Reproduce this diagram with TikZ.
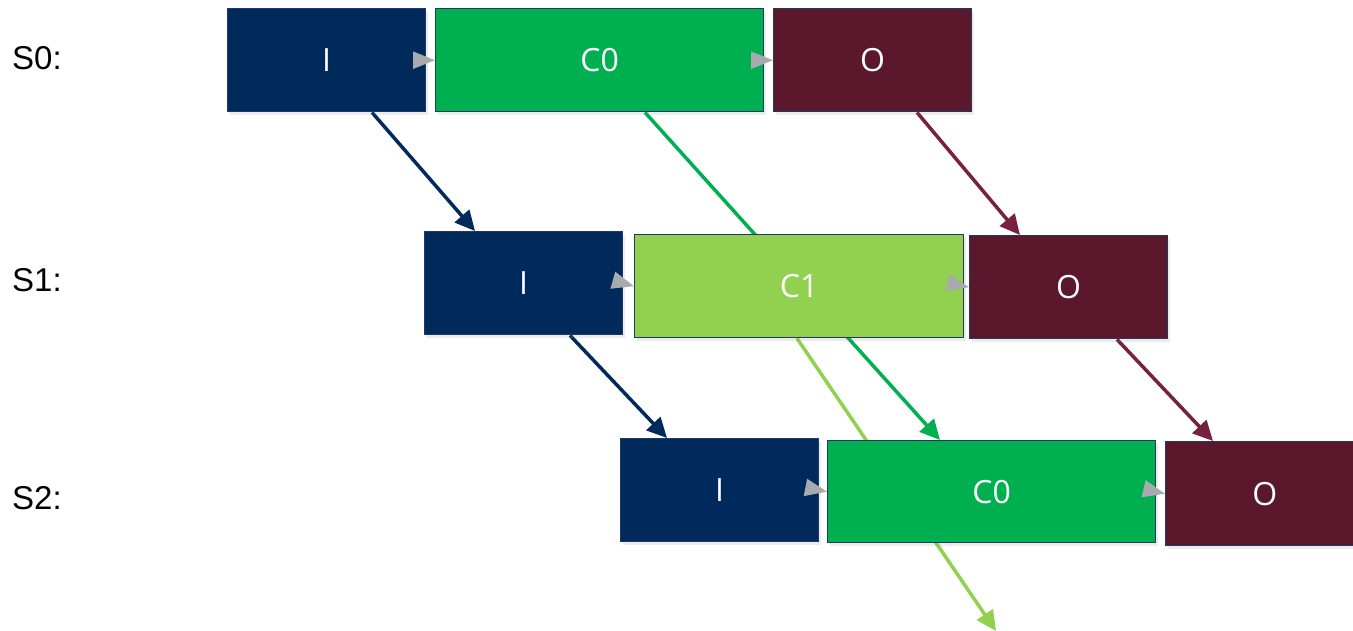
\documentclass[tikz,border=0pt]{standalone}
\usepackage{fontspec}
\setmainfont{Liberation Sans}
\newfontfamily\boxfont{Open Sans}
\usetikzlibrary{shadows,arrows.meta}
\definecolor{navy}{HTML}{002A5C}
\definecolor{bgreen}{HTML}{00B050}
\definecolor{lgreen}{HTML}{92D050}
\definecolor{dred}{HTML}{5B182C}
\definecolor{redarrow}{HTML}{78203F}
\definecolor{bordercol}{HTML}{1F3864}
\definecolor{greyarrow}{HTML}{A8ABAE}
\pgfdeclarelayer{bg}
\pgfsetlayers{bg,main}
\tikzset{
  blk/.style={draw=bordercol, line width=1.4pt, minimum width=#1, minimum height=103pt,
    inner sep=0pt, anchor=north west, text=white,
    font=\boxfont\fontsize{32}{32}\selectfont,
    drop shadow={shadow xshift=2pt, shadow yshift=-3pt, opacity=0.15}},
  ibox/.style={blk=198pt, fill=navy},
  obox/.style={blk=198pt, fill=dred},
  cbox/.style={blk=328pt, fill=bgreen},
  c1box/.style={blk=329pt, fill=lgreen},
  rowlabel/.style={anchor=base west, inner sep=0pt, font=\fontsize{33}{33}\selectfont},
  flow/.style={greyarrow, line width=2.5pt, -{Triangle[length=22pt,width=17pt]}},
  diag/.style={line width=3.5pt, -{Triangle[length=20pt,width=19pt]}},
}
\begin{document}
\begin{tikzpicture}[x=1pt,y=-1pt]
\clip (0,0) rectangle (1353,630);

% row labels
\node[rowlabel] (s0) at (12,69) {S0:};
\node[rowlabel] (s1) at (12,291) {S1:};
\node[rowlabel] (s2) at (12,509) {S2:};

% S0
\node[ibox] (I0) at (227,8) {I};
\node[cbox] (C0a) at (435,8) {C0};
\node[obox] (O0) at (773,8) {O};
% S1
\node[ibox] (I1) at (424,231) {I};
\node[c1box] (C1) at (634,234) {C1};
\node[obox] (O1) at (969,235) {O};
% S2
\node[ibox] (I2) at (620,438) {I};
\node[cbox,minimum height=102pt] (C0b) at (827,440) {C0};
\node[obox,minimum height=104pt] (O2) at (1165,441) {O};

% horizontal flow arrows
\draw[flow] (I0.east) -- (C0a.west);
\draw[flow] (C0a.east) -- (O0.west);
\draw[flow] (I1.east) -- (C1.west);
\draw[flow] (C1.east) -- (O1.west);
\draw[flow] (I2.east) -- (C0b.west);
\draw[flow] (C0b.east) -- (O2.west);

\coordinate (out) at (996,631);

\begin{pgfonlayer}{bg}
\draw[diag, navy] ([xshift=145pt]I0.south west) -- ([xshift=51pt]I1.north west);
\draw[diag, bgreen] ([xshift=210pt]C0a.south west) -- ([xshift=113pt]C0b.north west);
\draw[diag, redarrow] ([xshift=144pt]O0.south west) -- ([xshift=51pt]O1.north west);
\draw[diag, navy] ([xshift=146pt]I1.south west) -- ([xshift=47pt]I2.north west);
\draw[diag, lgreen] ([xshift=163pt]C1.south west) -- (out);
\draw[diag, redarrow] ([xshift=148pt]O1.south west) -- ([xshift=48pt]O2.north west);
\end{pgfonlayer}
\end{tikzpicture}
\end{document}
